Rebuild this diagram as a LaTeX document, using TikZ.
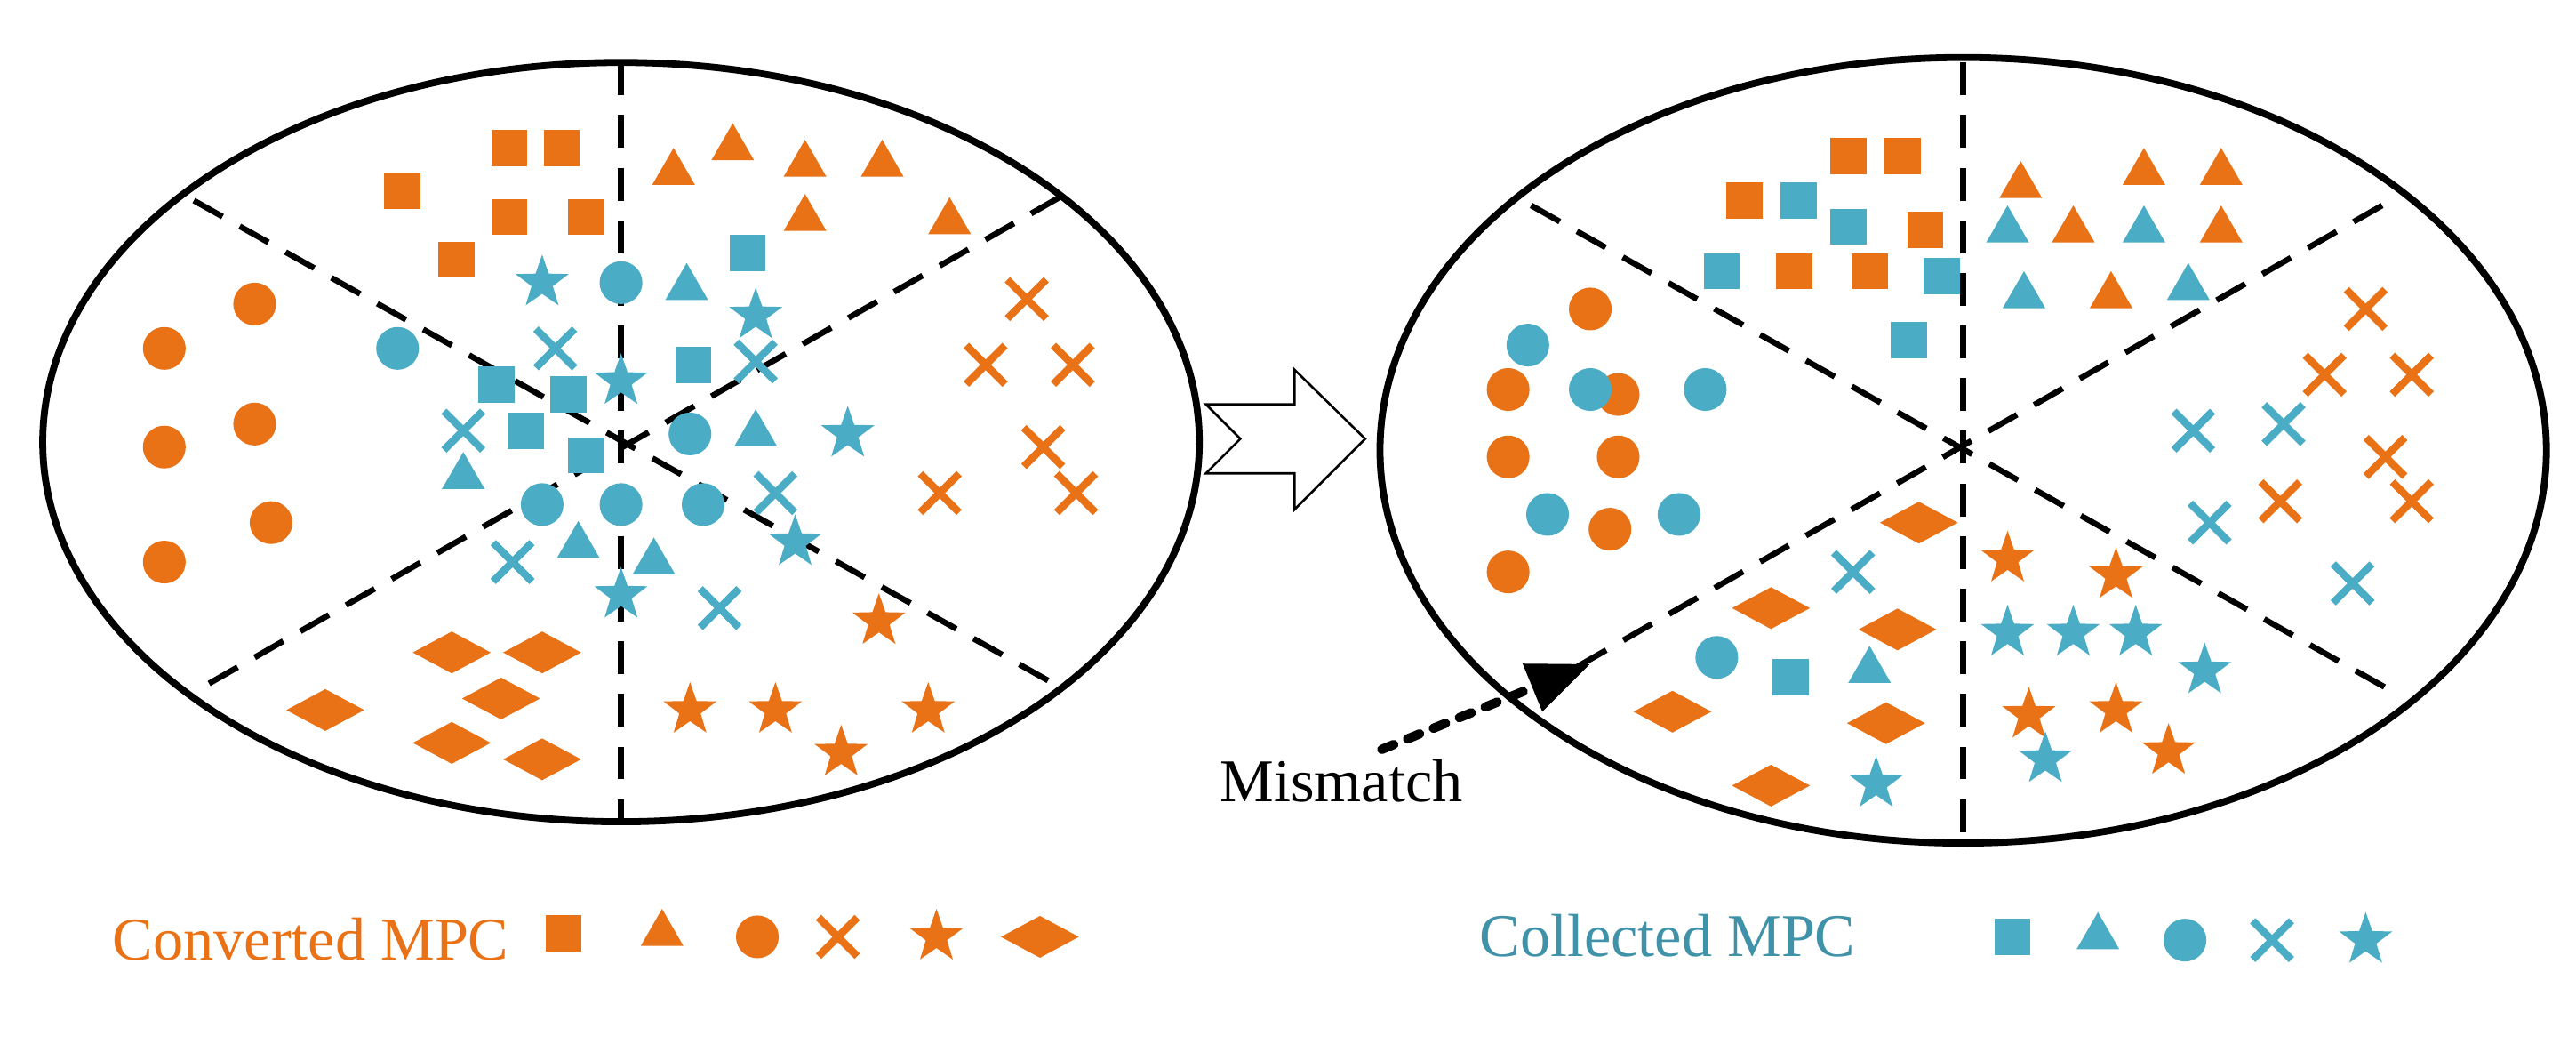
\documentclass[tikz,border=0pt]{standalone}
\usepackage{fontspec}
\setmainfont{Liberation Serif}
\usetikzlibrary{shapes.geometric,shapes.misc,arrows.meta}
\definecolor{org}{HTML}{E97116}
\definecolor{teal}{HTML}{4BACC6}
\tikzset{
  sq/.style={rectangle,fill,minimum size=0.22cm,inner sep=0},
  tri/.style={regular polygon,regular polygon sides=3,fill,minimum size=0.3cm,inner sep=0},
  circ/.style={circle,fill,minimum size=0.26cm,inner sep=0},
  crs/.style={cross out,draw,minimum size=0.19cm,inner sep=0,line width=1.3pt},
  st/.style={star,star points=5,star point ratio=2.5,fill,minimum size=0.34cm,inner sep=0},
  dia/.style={diamond,fill,minimum width=0.48cm,minimum height=0.26cm,inner sep=0},
  ell/.style={line width=1.2pt},
  sep/.style={line width=1pt,dash pattern=on 0.2cm off 0.12cm},
  lbl/.style={font=\fontsize{10.5pt}{12pt}\selectfont,inner sep=0}
}
\newcommand{\mk}[3]{\foreach \p in {#3} \node[#1,#2] at \p {};}
\begin{document}
\begin{tikzpicture}[x=0.01cm,y=-0.01cm]
\useasboundingbox (0,0) rectangle (1568,635.2);
% left ellipse
\draw[ell] (378,269) ellipse [x radius=352,y radius=231];
\draw[sep] (378,38) -- (378,500);
\draw[sep] (118,122) -- (645,418);
\draw[sep] (645,120) -- (120,420);
% right ellipse
\draw[ell] (1195,274) ellipse [x radius=355,y radius=239];
\draw[sep] (1195,38) -- (1195,513);
\draw[sep] (932,125) -- (1455,420);
\draw[sep] (1450,125) -- (935,420);
% block arrow
\draw[line width=0.4pt,fill=white] (734,246) -- (788,246) -- (788,225) -- (831,267) -- (788,310) -- (788,288) -- (734,288) -- (755,267) -- cycle;
% left orange
\mk{sq}{org}{(310,90),(342,90),(245,116),(310,132),(357,132),(278,158)}
\mk{tri}{org}{(410,105),(446,90),(490,100),(537,100),(490,133),(578,135)}
\mk{circ}{org}{(100,212),(155,185),(100,272),(155,258),(100,342),(165,318)}
\mk{crs}{org}{(625,182),(600,222),(653,222),(635,272),(655,300),(572,300)}
\mk{st}{org}{(535,378),(420,432),(472,432),(565,432),(512,458)}
\mk{dia}{org}{(275,397),(330,397),(198,432),(305,425),(275,452),(330,462)}
% left teal
\mk{st}{teal}{(330,172),(460,192),(378,232),(516,264),(484,330),(378,362)}
\mk{circ}{teal}{(378,172),(242,212),(420,264),(330,307),(378,307),(428,307)}
\mk{tri}{teal}{(418,175),(460,264),(282,290),(352,332),(398,342)}
\mk{sq}{teal}{(455,154),(422,222),(302,234),(346,240),(320,262),(357,277)}
\mk{crs}{teal}{(338,212),(460,220),(282,262),(472,300),(312,342),(438,370)}
% right orange
\mk{sq}{org}{(1125,95),(1158,95),(1062,122),(1172,140),(1092,165),(1138,165)}
\mk{tri}{org}{(1230,113),(1305,105),(1352,105),(1262,140),(1352,140),(1285,180)}
\mk{circ}{org}{(968,188),(918,237),(985,240),(918,278),(985,278),(980,322),(918,348)}
\mk{crs}{org}{(1440,188),(1415,228),(1468,228),(1452,278),(1388,305),(1468,305)}
\mk{st}{org}{(1222,340),(1288,350),(1235,435),(1288,432),(1320,457)}
\mk{dia}{org}{(1168,318),(1078,370),(1155,383),(1018,433),(1148,440),(1078,478)}
% right teal
\mk{sq}{teal}{(1095,122),(1125,138),(1048,165),(1182,168),(1162,207),(1090,412)}
\mk{tri}{teal}{(1222,140),(1305,140),(1232,180),(1332,175),(1138,408)}
\mk{circ}{teal}{(930,210),(968,237),(1038,237),(942,313),(1022,313),(1045,400)}
\mk{crs}{teal}{(1128,348),(1335,262),(1390,258),(1345,318),(1432,355)}
\mk{st}{teal}{(1222,385),(1262,385),(1300,385),(1342,408),(1245,462),(1142,477)}
% mismatch
\node[lbl,anchor=base west] (mm) at (742,488) {Mismatch};
\coordinate (ms) at (841,456);
\coordinate (me) at (968,404);
\draw[line width=1.6pt,line cap=round,dash pattern=on 0.08cm off 0.09cm,-{Triangle[length=0.38cm,width=0.3cm]}] (ms) -- (me);
% legends
\node[lbl,text=org,anchor=base west] (conv) at (68,584) {Converted MPC};
\mk{sq}{org}{(343,568)}
\mk{tri}{org}{(403,568)}
\mk{circ}{org}{(461,570)}
\mk{crs}{org}{(510,570)}
\mk{st}{org}{(570,570)}
\mk{dia}{org}{(633,570)}
\node[lbl,text=teal!85!black,anchor=base west] (coll) at (900,582) {Collected MPC};
\mk{sq}{teal}{(1225,570)}
\mk{tri}{teal}{(1277,570)}
\mk{circ}{teal}{(1330,572)}
\mk{crs}{teal}{(1383,572)}
\mk{st}{teal}{(1440,572)}
\end{tikzpicture}
\end{document}
